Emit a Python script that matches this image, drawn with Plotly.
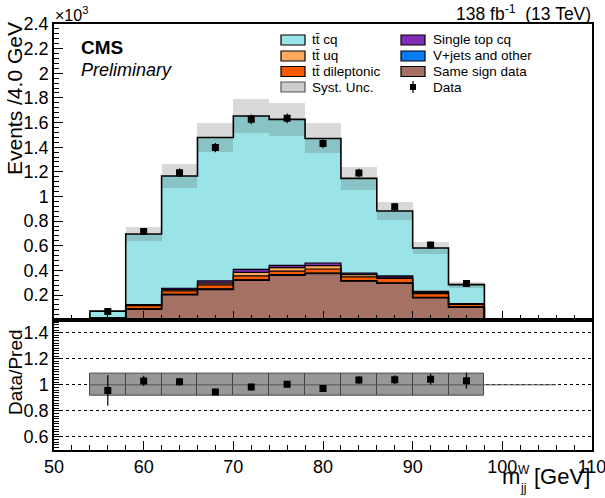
import numpy as np
import plotly.graph_objects as go

# ---- data (events per 4 GeV bin) ----
bin_centres = [56, 60, 64, 68, 72, 76, 80, 84, 88, 92, 96]
bin_width = 4.0

same_sign = [8, 85, 203, 246, 320, 361, 374, 314, 295, 178, 102]
vjets = [1, 3, 3, 4, 4, 4, 4, 3, 3, 3, 2]
tt_dilep = [3, 25, 27, 32, 32, 29, 33, 30, 36, 30, 20]
tt_uq = [1, 5, 10, 15, 28, 28, 27, 18, 11, 11, 3]
single_top = [1, 5, 12, 17, 24, 19, 22, 12, 11, 8, 3]
tt_cq = [55, 572, 911, 1165, 1245, 1185, 1011, 770, 526, 351, 154]

data = [66, 716, 1193, 1397, 1626, 1634, 1430, 1190, 916, 606, 293]
syst_rel = [0.085, 0.083, 0.083, 0.082, 0.082, 0.082, 0.083, 0.083, 0.083, 0.084, 0.085]

y_ticks = [200, 400, 600, 800, 1000, 1200, 1400, 1600, 1800, 2000, 2200, 2400]
ratio_ticks = [0.6, 0.8, 1.0, 1.2, 1.4]

# stacking order, bottom to top
components = [
    ("Same sign data", same_sign, "#A47164"),
    ("V+jets and other", vjets, "#0A7CF5"),
    ("tt\u0304 dileptonic", tt_dilep, "#F85A00"),
    ("tt\u0304 uq", tt_uq, "#FFA95E"),
    ("Single top cq", single_top, "#832DB6"),
    ("tt\u0304 cq", tt_cq, "#9AE3E6"),
]

x = np.array(bin_centres, dtype=float)
edges = np.append(x - bin_width / 2, x[-1] + bin_width / 2)
d = np.array(data, dtype=float)
rel = np.array(syst_rel)

FONT = "Liberation Sans, Arial, Helvetica, sans-serif"
W, H = 605, 498
ML, MR, MT, MB = 54, 13, 24, 48
PW, PH = W - ML - MR, H - MT - MB
RATIO_FRAC = 0.306


def px(xp):
    return (xp - ML) / PW


def py(yp):
    return (H - MB - yp) / PH


fig = go.Figure()

# stacked histograms
base = np.zeros(len(x))
levels = []
for name, vals, col in components:
    v = np.array(vals, dtype=float)
    fig.add_trace(go.Bar(x=x, y=v, base=base, width=bin_width, marker=dict(color=col, line=dict(width=0)),
                         showlegend=False, xaxis="x", yaxis="y", hoverinfo="skip"))
    base = base + v
    levels.append(base.copy())
total = base

# step outlines of each stack level
for i, lev in enumerate(levels):
    sx = np.concatenate([[edges[0]], edges[:-1], [edges[-1]]])
    sy = np.concatenate([[0], lev, [0]])
    fig.add_trace(go.Scatter(x=sx, y=sy, mode="lines",
                             line=dict(color="black", width=1.6 if i in (0, len(levels) - 1) else 1.2, shape="hv"),
                             showlegend=False, xaxis="x", yaxis="y", hoverinfo="skip"))

# systematic uncertainty band
fig.add_trace(go.Bar(x=x, y=2 * rel * total, base=total * (1 - rel), width=bin_width,
                     marker=dict(color="rgba(0,0,0,0)", line=dict(width=0),
                                 pattern=dict(shape=".", fgcolor="#505050", bgcolor="rgba(255,255,255,0)",
                                              size=2, solidity=0.5)),
                     showlegend=False, xaxis="x", yaxis="y", hoverinfo="skip"))

# data points
fig.add_trace(go.Scatter(x=x, y=d, mode="markers",
                         marker=dict(symbol="square", size=7, color="black"),
                         error_y=dict(type="data", array=np.sqrt(d), width=0, thickness=1.2, color="black"),
                         showlegend=False, xaxis="x", yaxis="y"))

# ---- ratio panel ----
ratio = d / total
ratio_err = np.sqrt(d) / total

fig.add_trace(go.Bar(x=x, y=2 * rel, base=1 - rel, width=bin_width,
                     marker=dict(color="#9a9a9a", line=dict(width=1, color="#444444"),
                                 pattern=dict(shape=".", fgcolor="#3c3c3c", bgcolor="#b0b0b0", size=2, solidity=0.5)),
                     showlegend=False, xaxis="x2", yaxis="y2", hoverinfo="skip"))
fig.add_trace(go.Scatter(x=[edges[0], 106], y=[1, 1], mode="lines", line=dict(color="#555555", width=1),
                         showlegend=False, xaxis="x2", yaxis="y2", hoverinfo="skip"))
fig.add_trace(go.Scatter(x=x, y=ratio, mode="markers",
                         marker=dict(symbol="square", size=7, color="black"),
                         error_y=dict(type="data", array=ratio_err, width=0, thickness=1.2, color="black"),
                         showlegend=False, xaxis="x2", yaxis="y2"))


def fmt(v):
    s = f"{v:.1f}"
    return s[:-2] if s.endswith(".0") else s


axis_common = dict(showline=True, linecolor="black", linewidth=1.5, mirror=True, ticks="inside",
                   tickcolor="black", tickwidth=1, zeroline=False, showgrid=False,
                   ticklabeloverflow="allow", automargin=False,
                   tickfont=dict(family=FONT, size=18, color="black"))

fig.update_layout(
    width=W, height=H, margin=dict(l=ML, r=MR, t=MT, b=MB, autoexpand=False),
    paper_bgcolor="white", plot_bgcolor="white", barmode="overlay", bargap=0,
    xaxis=dict(domain=[0, 1], range=[50, 110], anchor="y", dtick=10, ticklen=9, showticklabels=False,
               minor=dict(dtick=2, ticklen=5, ticks="inside", tickcolor="black"), **axis_common),
    yaxis=dict(domain=[RATIO_FRAC, 1], range=[0, 2400], anchor="x", tickvals=y_ticks,
               ticktext=[fmt(v / 1000) for v in y_ticks], ticklen=9,
               minor=dict(dtick=40, ticklen=5, ticks="inside", tickcolor="black"), **axis_common),
    xaxis2=dict(domain=[0, 1], range=[50, 110], anchor="y2", matches="x", dtick=10, ticklen=9,
                minor=dict(dtick=2, ticklen=5, ticks="inside", tickcolor="black"), **axis_common),
    yaxis2=dict(domain=[0, RATIO_FRAC], range=[0.5, 1.5], anchor="x2", tickvals=ratio_ticks,
                ticktext=[fmt(v) for v in ratio_ticks], ticklen=9,
                minor=dict(dtick=0.02, ticklen=5, ticks="inside", tickcolor="black"),
                **{**axis_common, "showgrid": True}, gridcolor="black", griddash="dot", gridwidth=1),
)

ann = []


def text(xp, yp, s, size, xanchor="center", yanchor="middle", angle=0, **kw):
    ann.append(dict(x=px(xp), y=py(yp), xref="paper", yref="paper", text=s, showarrow=False,
                    xanchor=xanchor, yanchor=yanchor, textangle=angle,
                    font=dict(family=FONT, size=size, color="black"), **kw))


text(14, 99, "Events /4.0 GeV", 21, angle=-90)
text(15, 372, "Data/Pred", 19, angle=-90)
text(53, 14, "×10<sup>3</sup>", 16, xanchor="left")
text(593, 13, "138 fb<sup>-1</sup>  (13 TeV)", 17.5, xanchor="right")
text(79, 47, "<b>CMS</b>", 19, xanchor="left")
text(79, 70, "<i>Preliminary</i>", 18, xanchor="left")
# x-axis title
text(511, 476, "m", 22)
text(524, 470, "W", 12)
text(523, 488, "jj", 12)
text(562, 476, "[GeV]", 22)

# legend
shapes = []
legend_rows = [40, 56, 71.5, 87]
col_box = [281, 401]
col_text = [310, 431]
legend_entries = [
    (0, 0, "tt\u0304 cq", "#9AE3E6"),
    (0, 1, "tt\u0304 uq", "#FFA95E"),
    (0, 2, "tt\u0304 dileptonic", "#F85A00"),
    (0, 3, "Syst. Unc.", None),
    (1, 0, "Single top cq", "#832DB6"),
    (1, 1, "V+jets and other", "#0A7CF5"),
    (1, 2, "Same sign data", "#A47164"),
]
for c, r, label, col in legend_entries:
    yc = legend_rows[r]
    x0 = col_box[c]
    shapes.append(dict(type="rect", xref="paper", yref="paper", x0=px(x0), x1=px(x0 + 24),
                       y0=py(yc + 5), y1=py(yc - 5), fillcolor=col if col else "#cdcdcd",
                       line=dict(color="black" if col else "#555555", width=1.2)))
    text(col_text[c], yc, label, 13.5, xanchor="left")
# data legend marker
mx, my = 413, 87
shapes.append(dict(type="line", xref="paper", yref="paper", x0=px(mx), x1=px(mx), y0=py(my - 6), y1=py(my + 6),
                   line=dict(color="black", width=1.2)))
shapes.append(dict(type="rect", xref="paper", yref="paper", x0=px(mx - 3), x1=px(mx + 3), y0=py(my + 3),
                   y1=py(my - 3), fillcolor="black", line=dict(width=0)))
text(col_text[1], 87, "Data", 13.5, xanchor="left")

fig.update_layout(annotations=ann, shapes=shapes)
fig.write_html("out.html")
